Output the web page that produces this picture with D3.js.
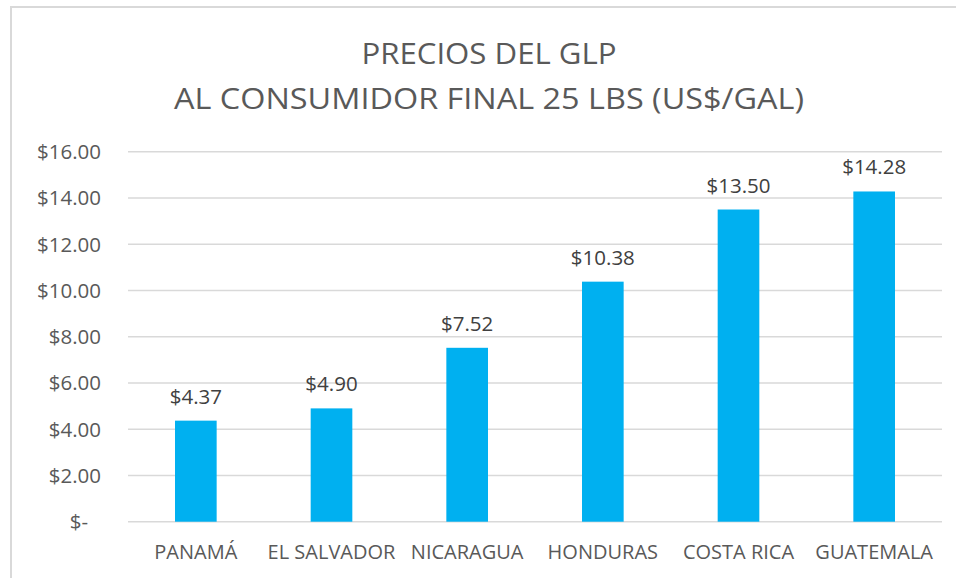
<!DOCTYPE html>
<html>
<head>
<meta charset="utf-8">
<script src="https://cdn.jsdelivr.net/npm/d3@7"></script>
<style>
  html, body { margin: 0; padding: 0; background: #fff; }
  svg { display: block; font-family: "Open Sans", sans-serif; }
</style>
</head>
<body>
<div id="chart"></div>
<script>
// data
const countries = ["PANAMÁ", "EL SALVADOR", "NICARAGUA", "HONDURAS", "COSTA RICA", "GUATEMALA"];
const prices = [4.37, 4.90, 7.52, 10.38, 13.50, 14.28];
const yTicks = [0, 2, 4, 6, 8, 10, 12, 14, 16];
const titleLines = ["PRECIOS DEL GLP", "AL CONSUMIDOR FINAL 25 LBS (US$/GAL)"];

const W = 956, H = 578;
const MARGIN = { top: 151.7, right: 14, bottom: 56.3, left: 128 };
const plotW = W - MARGIN.left - MARGIN.right;
const plotH = H - MARGIN.top - MARGIN.bottom;

const svg = d3.select("#chart").append("svg")
  .attr("width", W)
  .attr("height", H);

// chart area border (only top/left visible in the crop)
svg.append("rect")
  .attr("x", 11)
  .attr("y", 7)
  .attr("width", 970)
  .attr("height", 600)
  .attr("fill", "none")
  .attr("stroke", "#d9d9d9")
  .attr("stroke-width", 2);

// title (text is a bit wider in the original, so stretch to its width)
const titleWidths = [255, 630];
svg.append("g")
  .selectAll("text")
  .data(titleLines)
  .join("text")
  .attr("x", 489)
  .attr("y", (_, i) => 64 + i * 45)
  .attr("text-anchor", "middle")
  .attr("font-size", "30px")
  .attr("fill", "#595959")
  .attr("textLength", (_, i) => titleWidths[i])
  .attr("lengthAdjust", "spacingAndGlyphs")
  .text((d) => d);

const g = svg.append("g")
  .attr("transform", `translate(${MARGIN.left},${MARGIN.top})`);

const x = d3.scaleBand()
  .domain(countries)
  .range([0, plotW])
  .paddingInner(0.693)
  .paddingOuter(0.3465);

const y = d3.scaleLinear()
  .domain([0, 16])
  .range([plotH, 0]);

// gridlines
g.append("g")
  .selectAll("line")
  .data(yTicks)
  .join("line")
  .attr("x1", 0)
  .attr("x2", plotW)
  .attr("y1", (d) => y(d))
  .attr("y2", (d) => y(d))
  .attr("stroke", "#d9d9d9")
  .attr("stroke-width", 1.5);

// y axis labels
const fmt = (d) => (d === 0 ? "$-" : "$" + d.toFixed(2));
g.append("g")
  .selectAll("text")
  .data(yTicks)
  .join("text")
  .attr("x", (d) => (d === 0 ? -40 : -27))
  .attr("y", (d) => y(d))
  .attr("dy", "0.36em")
  .attr("text-anchor", "end")
  .attr("font-size", "20.5px")
  .attr("fill", "#595959")
  .text(fmt);

// bars
g.append("g")
  .selectAll("rect")
  .data(prices)
  .join("rect")
  .attr("x", (_, i) => x(countries[i]))
  .attr("y", (d) => y(d))
  .attr("width", x.bandwidth())
  .attr("height", (d) => plotH - y(d))
  .attr("fill", "#00b0f0");

// value labels
g.append("g")
  .selectAll("text")
  .data(prices)
  .join("text")
  .attr("x", (_, i) => x(countries[i]) + x.bandwidth() / 2)
  .attr("y", (d) => y(d) - 17)
  .attr("text-anchor", "middle")
  .attr("font-size", "20.5px")
  .attr("fill", "#404040")
  .text((d) => "$" + d.toFixed(2));

// category labels
g.append("g")
  .selectAll("text")
  .data(countries)
  .join("text")
  .attr("x", (d) => x(d) + x.bandwidth() / 2)
  .attr("y", plotH + 37.5)
  .attr("text-anchor", "middle")
  .attr("font-size", "20px")
  .attr("fill", "#595959")
  .text((d) => d);
</script>
</body>
</html>
